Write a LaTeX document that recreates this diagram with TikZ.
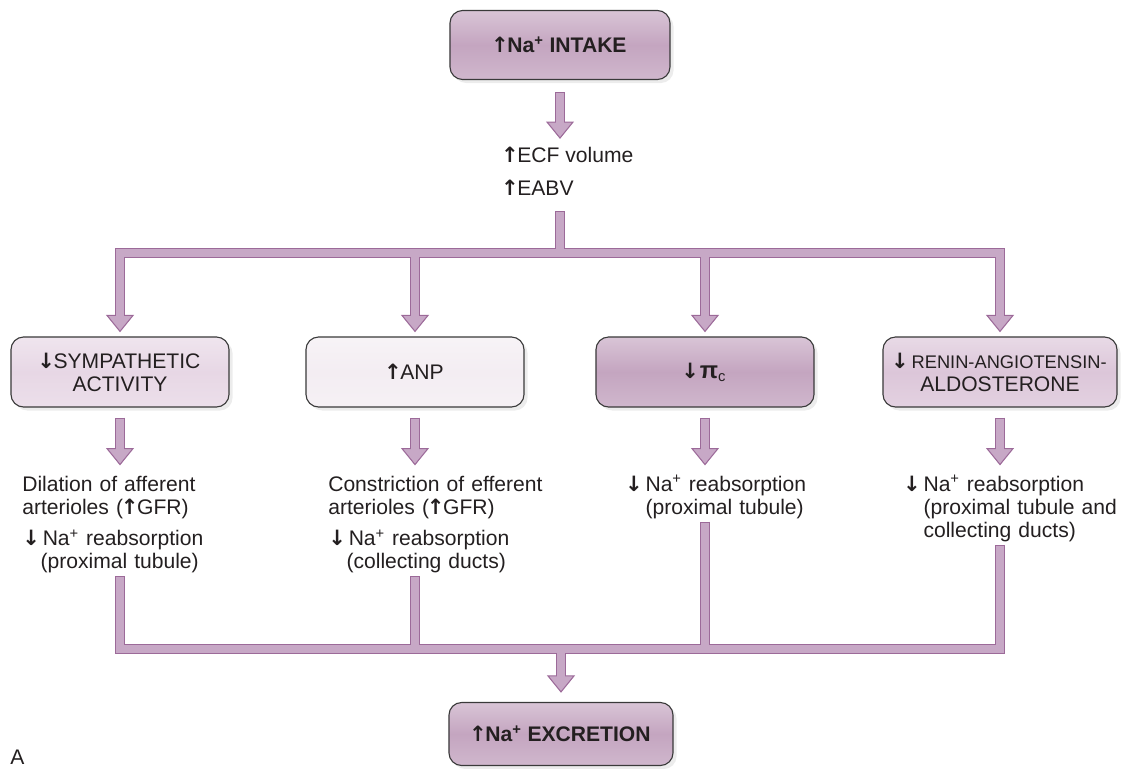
\documentclass[tikz,border=0pt]{standalone}
\usepackage{fontspec}
\setmainfont{Liberation Sans}
\newfontfamily\arrowfont{DejaVu Sans}
\usetikzlibrary{calc,positioning,shadows}
\definecolor{ink}{HTML}{231F20}
\definecolor{edge}{HTML}{3A3A3A}
\definecolor{pipeFill}{HTML}{C7A8C6}
\definecolor{pipeEdge}{HTML}{9C6A99}
\definecolor{mauve}{HTML}{C4A5C0}
\definecolor{mauveMid}{HTML}{DCC6D9}
\definecolor{mauveLight}{HTML}{E7D7E5}
\definecolor{mauvePale}{HTML}{F3EDF2}
% heavy up / down arrows used in the labels
\newcommand{\uparr}{{\arrowfont\bfseries\fontsize{15}{15}\selectfont\kern-1.6pt↑\kern-1.0pt}}
\newcommand{\dnarr}{{\arrowfont\bfseries\fontsize{15}{15}\selectfont\kern-1.6pt↓\kern-1.0pt}}
\newcommand{\fathead}[1]{\filldraw[head] (#1) -- ++(-13,-16) -- ++(26,0) -- cycle;}
\tikzset{
  box/.style={draw=edge, line width=0.8pt, rounded corners=9pt,
    top color=#1!65!white, bottom color=#1!80!white, middle color=#1,
    drop shadow={opacity=0.15,shadow xshift=2.5pt,shadow yshift=-2.5pt},
    text=ink, align=center, inner sep=0pt, font=\fontsize{15}{16.4}\selectfont},
  txt/.style={text=ink, inner sep=0pt, font=\fontsize{15}{16.4}\selectfont},
  colTxt/.style={txt, anchor=base west, text width=6cm, align=left},
  pipeOut/.style={draw=pipeEdge, line width=7.4pt, line join=miter},
  pipeIn/.style={draw=pipeFill, line width=5.9pt, line join=miter},
  head/.style={fill=pipeFill, draw=pipeEdge, line width=0.75pt, line join=miter},
}
\begin{document}
\begin{tikzpicture}[x=0.025cm, y=-0.025cm]
\useasboundingbox (0,0) rectangle (1126,769);

% boxes
\node[box=mauve, minimum width=5.5cm, minimum height=1.725cm, font=\fontsize{15}{16.4}\selectfont\bfseries] (intake) at (560,45) {\uparr Na\textsuperscript{+} INTAKE};
\node[txt, anchor=base west] (ecf) at (503,162) {\uparr ECF volume};
\node[txt, anchor=base west] (eabv) at (503,195) {\uparr EABV};
\foreach \name/\x/\w/\col/\lbl in {symp/120/5.45/mauveLight/{\dnarr SYMPATHETIC\\ACTIVITY},
    anp/415/5.45/mauvePale/{\uparr ANP},
    pic/705/5.45/mauve/{\dnarr\hspace{1.5pt}{\bfseries\fontsize{17}{17}\selectfont π}\textsubscript{c}},
    renin/1000/5.85/mauveMid/{\fontsize{13}{15.5}\selectfont\dnarr\hspace{3pt}RENIN-ANGIOTENSIN-\\ALDOSTERONE}}
  \node[box=\col, minimum width=\w cm, minimum height=1.75cm] (\name) at (\x,372) {\lbl};
\node[box=mauve, minimum width=5.6cm, minimum height=1.575cm, font=\fontsize{15}{16.4}\selectfont\bfseries] (excretion) at (561,734) {\uparr Na\textsuperscript{+} EXCRETION};

% effects
\node[colTxt] (t1) at (22,491) {Dilation of afferent\\arterioles (\uparr GFR)\\[7.5pt]\dnarr\hspace{3pt}Na\textsuperscript{+} reabsorption\\\hphantom{\dnarr\hspace{3pt}}(proximal tubule)};
\node[colTxt] (t2) at (328,491) {Constriction of efferent\\arterioles (\uparr GFR)\\[7.5pt]\dnarr\hspace{3pt}Na\textsuperscript{+} reabsorption\\\hphantom{\dnarr\hspace{3pt}}(collecting ducts)};
\node[colTxt] (t3) at (627,491) {\dnarr\hspace{3pt}Na\textsuperscript{+} reabsorption\\\hphantom{\dnarr\hspace{3pt}}(proximal tubule)};
\node[colTxt] (t4) at (905,491) {\dnarr\hspace{3pt}Na\textsuperscript{+} reabsorption\\\hphantom{\dnarr\hspace{3pt}}(proximal tubule and\\\hphantom{\dnarr\hspace{3pt}}collecting ducts)};
\node[txt, anchor=base west, font=\fontsize{15}{17}\selectfont] (panel) at (10,764) {A};

\coordinate (split) at ($(eabv.base -| intake.south)+(0,58)$);
\coordinate (merge) at ($(excretion.north)+(0,-53)$);

% pipe outlines
\draw[pipeOut] ($(intake.south)+(0,12)$) -- ($(intake.south)+(0,44)$);
\draw[pipeOut] ($(eabv.base -| intake.south)+(0,16)$) -- (split);
\draw[pipeOut] ($(symp.north)+(0,-19)$) |- (split) -| ($(renin.north)+(0,-19)$);
\draw[pipeOut] ($(symp.south |- t1.south)+(0,3)$) |- (merge) -| ($(renin.south |- t4.south)+(0,3)$);
\draw[pipeOut] (merge) -- ($(excretion.north)+(0,-24)$);
\foreach \b/\t in {symp/t1,anp/t2,pic/t3,renin/t4}{
  \draw[pipeOut] ($(\b.south)+(0,10)$) -- ($(\b.south)+(0,43)$);
  \draw[pipeOut] ($(\b.south |- \t.south)+(0,3)$) -- (\b.south |- merge);}
\foreach \b in {anp,pic}
  \draw[pipeOut] ($(\b.north)+(0,-19)$) -- (\b.north |- split);

% heads
\fathead{$(intake.south)+(0,58)$}
\fathead{$(excretion.north)+(0,-10)$}
\foreach \b in {symp,anp,pic,renin}{
  \fathead{$(\b.north)+(0,-5)$}
  \fathead{$(\b.south)+(0,57)$}}

% pipe fill
\draw[pipeIn] ($(intake.south)+(0,13)$) -- ($(intake.south)+(0,44)$);
\draw[pipeIn] ($(eabv.base -| intake.south)+(0,17)$) -- (split);
\draw[pipeIn] ($(symp.north)+(0,-19)$) |- (split) -| ($(renin.north)+(0,-19)$);
\draw[pipeIn] ($(symp.south |- t1.south)+(0,4)$) |- (merge) -| ($(renin.south |- t4.south)+(0,4)$);
\draw[pipeIn] (merge) -- ($(excretion.north)+(0,-24)$);
\foreach \b/\t in {symp/t1,anp/t2,pic/t3,renin/t4}{
  \draw[pipeIn] ($(\b.south)+(0,11)$) -- ($(\b.south)+(0,43)$);
  \draw[pipeIn] ($(\b.south |- \t.south)+(0,4)$) -- (\b.south |- merge);}
\foreach \b in {anp,pic}
  \draw[pipeIn] ($(\b.north)+(0,-19)$) -- (\b.north |- split);
\end{tikzpicture}
\end{document}
